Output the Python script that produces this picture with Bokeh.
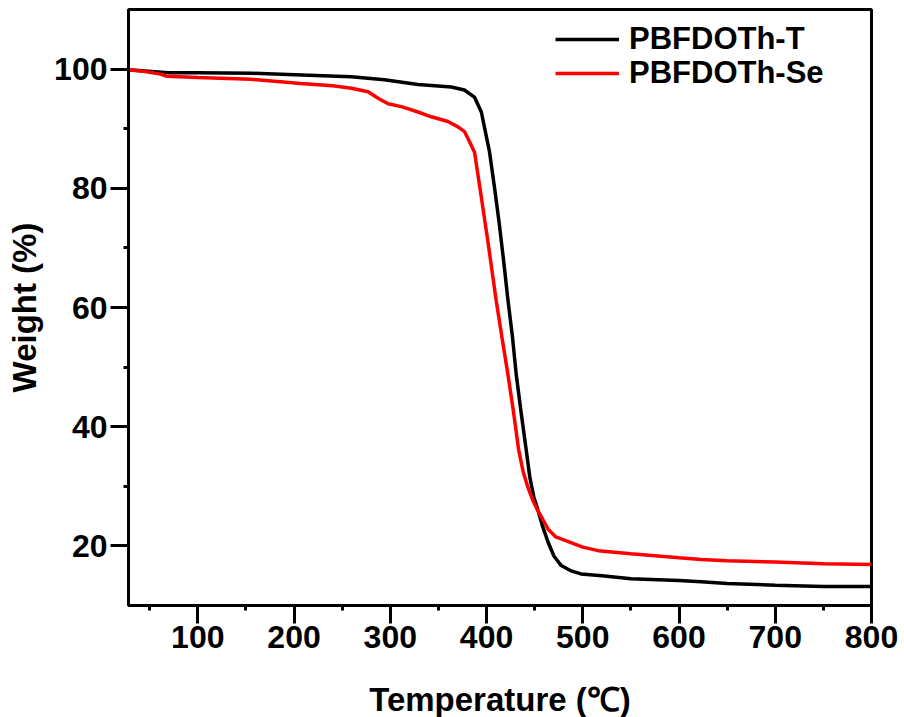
from bokeh.plotting import figure
from bokeh.models import Range1d, Legend, LegendItem, FixedTicker
from bokeh.embed import file_html
from bokeh.resources import INLINE

# PBFDOTh-T (black)
t_temp = [28, 69, 100, 156, 208, 259.6, 293.8, 328.8, 363.4, 377, 387.4, 394.6, 403,
          408.4, 413.5, 418, 422.3, 427, 430.9, 436, 441.3, 445, 449, 453.4, 458, 463.8,
          470, 477.6, 488, 498, 520, 550, 600, 623, 650, 700, 750, 800]
t_weight = [99.9, 99.4, 99.4, 99.3, 99.0, 98.7, 98.2, 97.4, 97.0, 96.5, 95.3, 92.8, 86.2,
            80.0, 73.7, 67.5, 61.2, 55.0, 48.7, 42.3, 36.0, 31.5, 28.3, 26.0, 23.4, 20.7,
            18.3, 16.7, 15.8, 15.3, 15.0, 14.5, 14.2, 14.0, 13.7, 13.4, 13.2, 13.2]

# PBFDOTh-Se (red)
s_temp = [28, 45, 60, 68, 100, 155, 207, 240, 259.6, 276.9, 287.3, 297.7, 311.5, 328.8,
          342.6, 359.9, 370.3, 377.2, 382.4, 387.6, 394.6, 401.5, 410, 416, 422.3, 428,
          433.3, 438, 443, 448, 453, 458, 464, 472, 485, 500, 516, 550, 600, 623, 650,
          700, 750, 800]
s_weight = [99.9, 99.6, 99.2, 98.8, 98.6, 98.3, 97.6, 97.2, 96.8, 96.2, 95.1, 94.2, 93.7,
            92.8, 92.0, 91.2, 90.3, 89.5, 87.8, 86.0, 78.5, 71.0, 61.2, 55.0, 48.7, 42.5,
            36.2, 32.5, 29.8, 27.7, 26.0, 24.6, 22.8, 21.5, 20.7, 19.8, 19.2, 18.7, 18.0,
            17.7, 17.5, 17.3, 17.0, 16.9]

x_ticks = [100, 200, 300, 400, 500, 600, 700, 800]
x_minor = [50, 150, 250, 350, 450, 550, 650, 750]
y_ticks = [20, 40, 60, 80, 100]
y_minor = [30, 50, 70, 90]

FONT = "Liberation Sans"

p = figure(frame_width=743, frame_height=596, min_border_left=128, min_border_right=33,
           min_border_top=9, min_border_bottom=112, output_backend="svg",
           toolbar_location=None, x_range=Range1d(28, 800), y_range=Range1d(10, 110))

r1 = p.line(t_temp, t_weight, line_color="black", line_width=3.5)
r2 = p.line(s_temp, s_weight, line_color="#ff0000", line_width=3.5)

p.xgrid.visible = False
p.ygrid.visible = False
p.outline_line_color = "black"
p.outline_line_width = 3
p.outline_line_alpha = 1

p.xaxis.ticker = FixedTicker(ticks=x_ticks, minor_ticks=x_minor)
p.yaxis.ticker = FixedTicker(ticks=y_ticks, minor_ticks=y_minor)

for ax in (p.xaxis[0], p.yaxis[0]):
    ax.axis_line_width = 3
    ax.axis_line_color = "black"
    ax.major_tick_line_width = 3
    ax.major_tick_line_color = "black"
    ax.minor_tick_line_width = 3
    ax.minor_tick_line_color = "black"
    ax.major_tick_out = 18
    ax.major_tick_in = 0
    ax.minor_tick_out = 5
    ax.minor_tick_in = 0
    ax.major_label_text_font = FONT
    ax.major_label_text_font_style = "bold"
    ax.major_label_text_font_size = "32px"
    ax.major_label_text_color = "black"
    ax.axis_label_text_font = FONT
    ax.axis_label_text_font_style = "bold"
    ax.axis_label_text_font_size = "33px"
    ax.axis_label_text_color = "black"

p.xaxis.major_label_standoff = 2
p.yaxis.major_label_standoff = 3
p.xaxis.axis_label = "Temperature (℃)"
p.yaxis.axis_label = "Weight (%)"
p.xaxis.axis_label_standoff = 30
p.yaxis.axis_label_standoff = 8


def make_legend(label, rend, loc):
    lg = Legend(items=[LegendItem(label=label, renderers=[rend])], location=loc)
    lg.border_line_color = None
    lg.background_fill_alpha = 0
    lg.margin = 0
    lg.padding = 0
    lg.spacing = 0
    lg.glyph_width = 64
    lg.label_standoff = 10
    lg.label_text_font = FONT
    lg.label_text_font_style = "bold"
    lg.label_text_font_size = "31px"
    lg.label_text_color = "black"
    return lg


p.add_layout(make_legend("PBFDOTh-T", r1, (427, 548)), "center")
p.add_layout(make_legend("PBFDOTh-Se", r2, (427, 514)), "center")

open("out.html", "w").write(file_html(p, INLINE))
